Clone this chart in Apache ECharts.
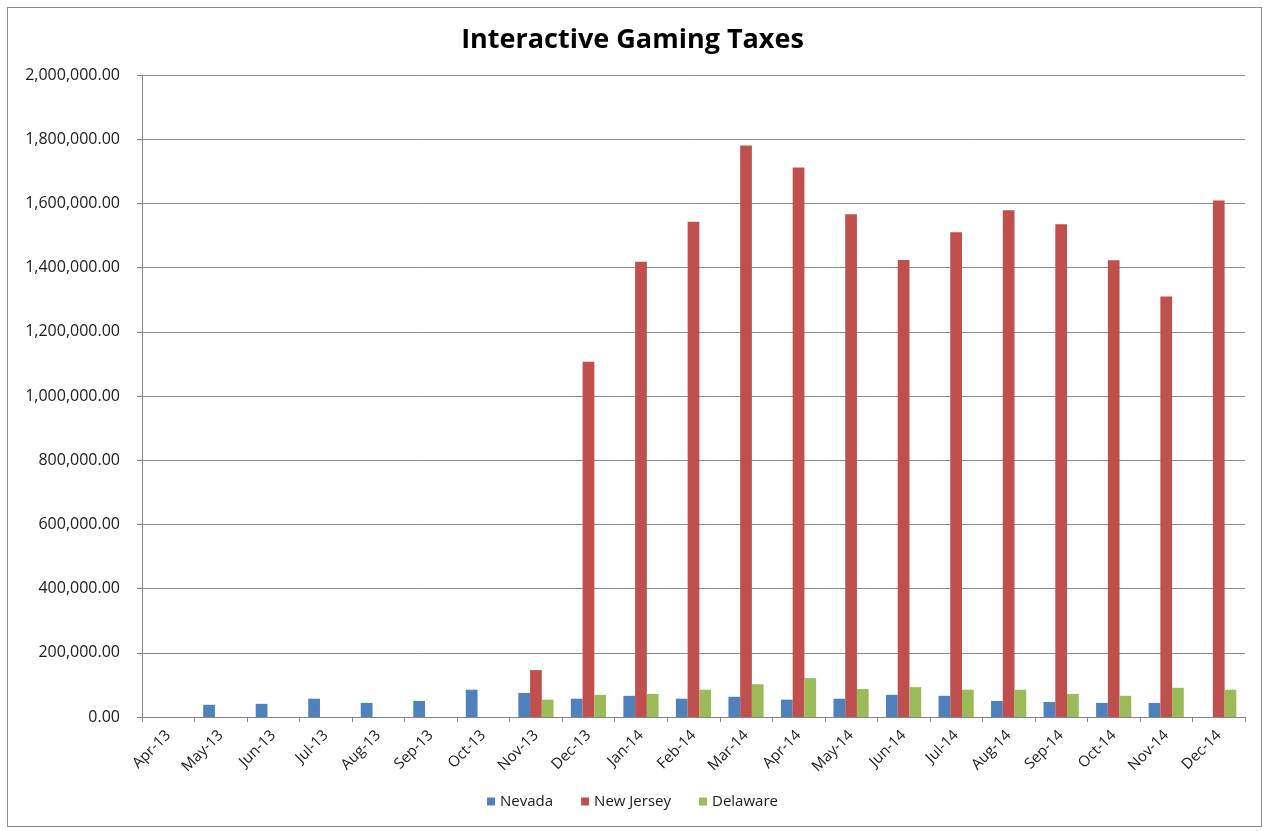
<!DOCTYPE html>
<html>
<head>
<meta charset="utf-8">
<script src="https://cdn.jsdelivr.net/npm/echarts@6/dist/echarts.min.js"></script>
<style>
  html, body { margin: 0; padding: 0; background: #fff; }
  #frame { position: absolute; left: 7px; top: 7px; width: 1255px; height: 820px; border: 1px solid #8c8c8c; box-sizing: border-box; }
  #chart { position: absolute; left: 0; top: 0; width: 1265px; height: 831px; }
</style>
</head>
<body>
<div id="frame"></div>
<div id="chart"></div>
<script>
// Monthly interactive gaming tax receipts by state
const months = ['Apr-13','May-13','Jun-13','Jul-13','Aug-13','Sep-13','Oct-13','Nov-13','Dec-13',
  'Jan-14','Feb-14','Mar-14','Apr-14','May-14','Jun-14','Jul-14','Aug-14','Sep-14','Oct-14','Nov-14','Dec-14'];
const nevada = [0, 38000, 41000, 57000, 44000, 50000, 85000, 75000, 57000,
  66000, 57000, 63000, 54000, 57000, 69000, 66000, 50000, 47000, 44000, 44000, 0];
const newJersey = [0, 0, 0, 0, 0, 0, 0, 146000, 1107000,
  1418000, 1543000, 1780000, 1712000, 1566000, 1424000, 1510000, 1579000, 1535000, 1423000, 1310000, 1609000];
const delaware = [0, 0, 0, 0, 0, 0, 0, 54000, 69000,
  72000, 85000, 102000, 121000, 87000, 93000, 85000, 85000, 72000, 66000, 91000, 85000];
const yTicks = { min: 0, max: 2000000, interval: 200000 };

const chart = echarts.init(document.getElementById('chart'));
const fontFamily = '"Open Sans", "Liberation Sans", sans-serif';

function fmt(v) {
  return Number(v).toLocaleString('en-US', { minimumFractionDigits: 2, maximumFractionDigits: 2 });
}

function barSeries(name, data, color) {
  return {
    name: name, type: 'bar', data: data,
    barGap: '0%', barCategoryGap: '33%',
    itemStyle: { color: color },
    emphasis: { disabled: true }
  };
}

chart.setOption({
  animation: false,
  textStyle: { fontFamily: fontFamily },
  title: {
    text: 'Interactive Gaming Taxes',
    left: 'center', top: 22,
    textStyle: { fontSize: 27, fontWeight: 'bold', color: '#000', fontFamily: fontFamily }
  },
  legend: {
    bottom: 17, left: 'center',
    icon: 'rect', itemWidth: 8, itemHeight: 8, itemGap: 28,
    textStyle: { fontSize: 15, color: '#1a1a1a', fontFamily: fontFamily },
    data: ['Nevada', 'New Jersey', 'Delaware']
  },
  grid: { left: 142, right: 20, top: 75, bottom: 114 },
  xAxis: {
    type: 'category', data: months,
    axisLine: { lineStyle: { color: '#868686' } },
    axisTick: { show: true, alignWithLabel: false, length: 5, lineStyle: { color: '#868686' } },
    axisLabel: { rotate: 45, fontSize: 15, color: '#1a1a1a', margin: 16, interval: 0 }
  },
  yAxis: {
    type: 'value', min: yTicks.min, max: yTicks.max, interval: yTicks.interval,
    axisLine: { show: true, lineStyle: { color: '#868686' } },
    axisTick: { show: true, length: 5, lineStyle: { color: '#868686' } },
    splitLine: { lineStyle: { color: '#8c8c8c', width: 1 } },
    axisLabel: { fontSize: 16, color: '#1a1a1a', margin: 22, formatter: fmt }
  },
  series: [
    barSeries('Nevada', nevada, '#4F81BD'),
    barSeries('New Jersey', newJersey, '#C0504D'),
    barSeries('Delaware', delaware, '#9BBB59')
  ]
});
</script>
</body>
</html>
